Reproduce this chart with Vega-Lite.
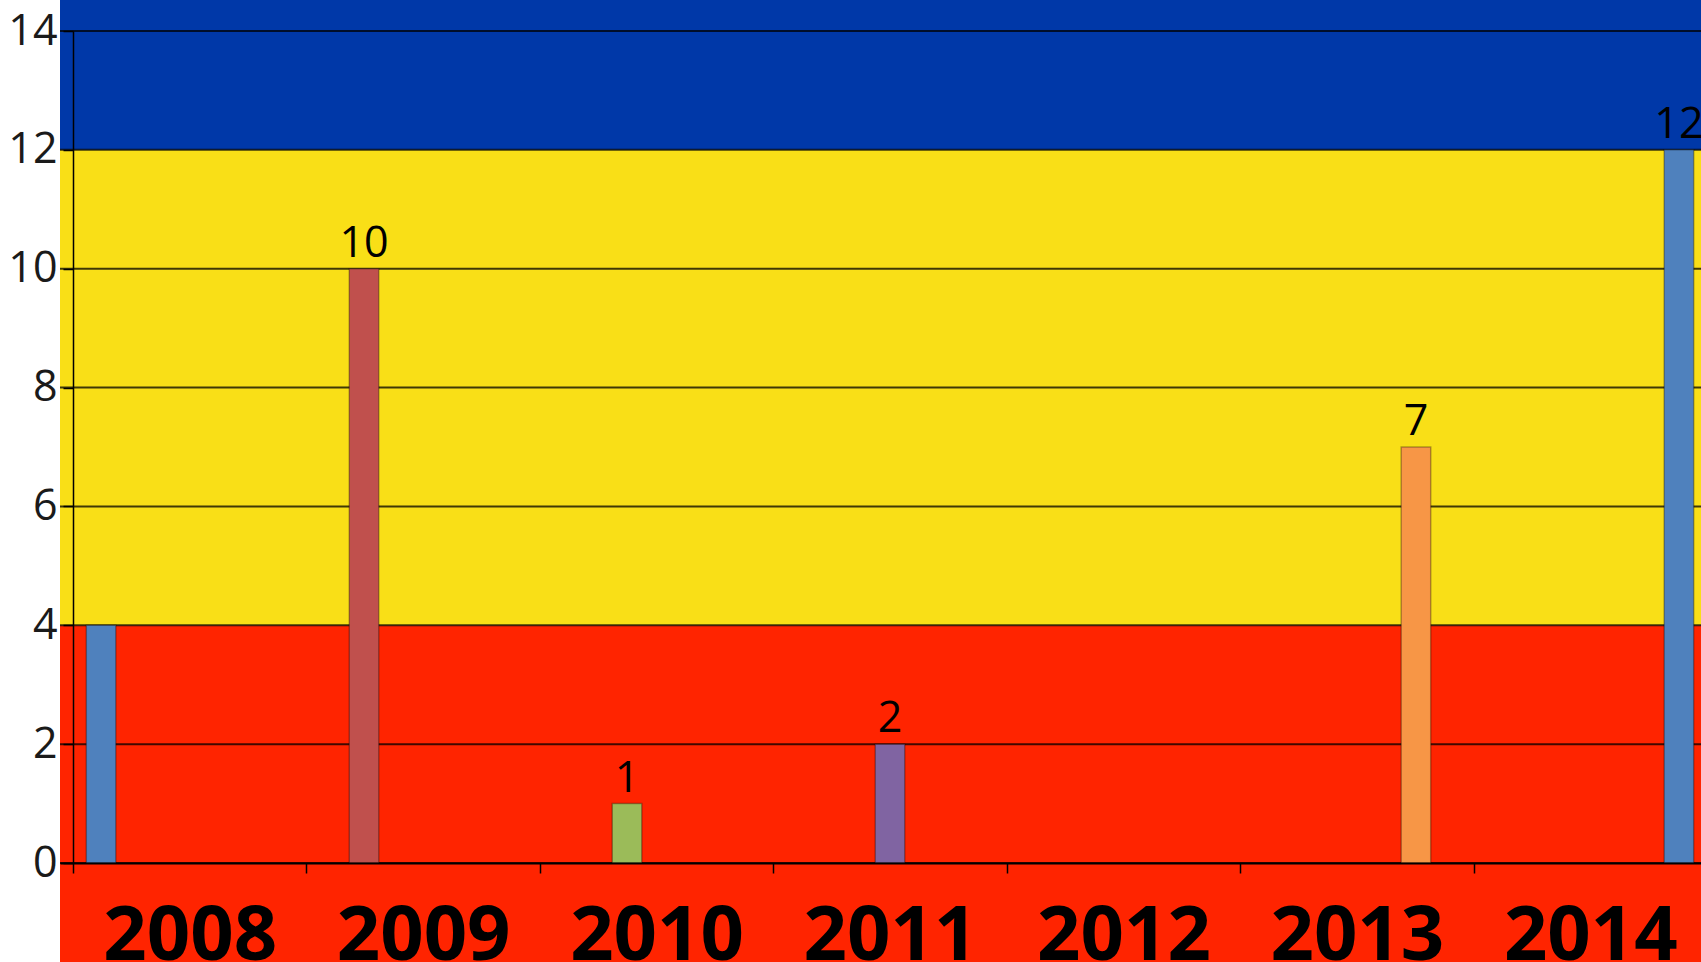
{
  "$schema": "https://vega.github.io/schema/vega-lite/v6.json",
  "width": 1647,
  "height": 832,
  "autosize": {"type": "none"},
  "padding": {"left": 60, "top": 31, "right": -6, "bottom": 99},
  "background": "white",
  "config": {"view": {"stroke": null}},
  "datasets": {
    "bands": [
      {"band": "red", "lo": -1.8, "hi": 4},
      {"band": "yellow", "lo": 4, "hi": 12},
      {"band": "blue", "lo": 12, "hi": 14.8}
    ],
    "grid": [{"v": 0}, {"v": 2}, {"v": 4}, {"v": 6}, {"v": 8}, {"v": 10}, {"v": 12}, {"v": 14}],
    "bars": [
      {"year": "2008", "value": 4},
      {"year": "2009", "value": 10},
      {"year": "2010", "value": 1},
      {"year": "2011", "value": 2},
      {"year": "2013", "value": 7},
      {"year": "2014", "value": 12}
    ]
  },
  "resolve": {"scale": {"color": "independent"}},
  "layer": [
    {
      "data": {"name": "bands"},
      "mark": {"type": "rect"},
      "encoding": {
        "y": {
          "field": "lo", "type": "quantitative",
          "scale": {"domain": [0, 14], "nice": false, "zero": false},
          "axis": {"title": null, "values": [0, 2, 4, 6, 8, 10, 12, 14], "format": "d", "offset": -13, "grid": false, "labelFont": "Open Sans", "labelFontSize": 43, "labelColor": "#1a1a1a", "labelPadding": 6, "labelFlush": false, "tickSize": 10, "tickColor": "#000", "tickWidth": 1.5, "domainColor": "#000", "domainWidth": 1.5, "zindex": 1}
        },
        "y2": {"field": "hi"},
        "color": {"field": "band", "type": "nominal", "scale": {"domain": ["red", "yellow", "blue"], "range": ["#FF2400", "#F9DF17", "#0038A8"]}, "legend": null}
      }
    },
    {
      "data": {"name": "grid"},
      "mark": {"type": "rule", "color": "#000", "opacity": 0.75, "strokeWidth": 2},
      "encoding": {
        "y": {"field": "v", "type": "quantitative", "axis": {"title": null, "values": [0, 2, 4, 6, 8, 10, 12, 14], "format": "d", "offset": -13, "grid": false, "labelFont": "Open Sans", "labelFontSize": 43, "labelColor": "#1a1a1a", "labelPadding": 6, "labelFlush": false, "tickSize": 10, "tickColor": "#000", "tickWidth": 1.5, "domainColor": "#000", "domainWidth": 1.5, "zindex": 1}}
      }
    },
    {
      "data": {"name": "bars"},
      "mark": {"type": "bar", "stroke": "#000", "strokeOpacity": 0.3, "strokeWidth": 1.5},
      "encoding": {
        "x": {
          "field": "year", "type": "nominal",
          "scale": {"domain": ["2008", "2009", "2010", "2011", "2012", "2013", "2014"], "paddingInner": 0, "paddingOuter": 0.0278, "align": 1},
          "axis": {"orient": "bottom", "title": null, "labelAngle": 0, "labelFont": "Open Sans", "labelFontWeight": "bold", "labelFontSize": 76, "labelColor": "#000", "labelBaseline": "alphabetic", "labelPadding": 86, "labelLimit": 0, "labelOverlap": false, "labelBound": false, "tickBand": "extent", "tickColor": "#000", "tickSize": 10, "tickWidth": 1.5, "domainColor": "#000", "domainWidth": 2, "zindex": 1}
        },
        "xOffset": {
          "field": "year", "type": "nominal",
          "scale": {"domain": ["2008", "2009", "2010", "2011", "2012", "2013", "2014"], "paddingInner": 0, "paddingOuter": 0.45}
        },
        "y": {
          "field": "value", "type": "quantitative",
          "axis": {"title": null, "values": [0, 2, 4, 6, 8, 10, 12, 14], "format": "d", "offset": -13, "grid": false, "labelFont": "Open Sans", "labelFontSize": 43, "labelColor": "#1a1a1a", "labelPadding": 6, "labelFlush": false, "tickSize": 10, "tickColor": "#000", "tickWidth": 1.5, "domainColor": "#000", "domainWidth": 1.5, "zindex": 1}
        },
        "color": {
          "field": "year", "type": "nominal",
          "scale": {"domain": ["2008", "2009", "2010", "2011", "2012", "2013", "2014"], "range": ["#4F81BD", "#C0504D", "#9BBB59", "#8064A2", "#4BACC6", "#F79646", "#4F81BD"]},
          "legend": null
        }
      }
    },
    {
      "data": {"name": "bars"},
      "transform": [{"filter": "datum.year != '2008'"}],
      "mark": {"type": "text", "font": "Open Sans", "fontSize": 43, "color": "#000", "baseline": "alphabetic", "dy": -12},
      "encoding": {
        "x": {"field": "year", "type": "nominal"},
        "xOffset": {"field": "year", "type": "nominal"},
        "y": {"field": "value", "type": "quantitative"},
        "text": {"field": "value", "type": "quantitative"}
      }
    }
  ]
}
